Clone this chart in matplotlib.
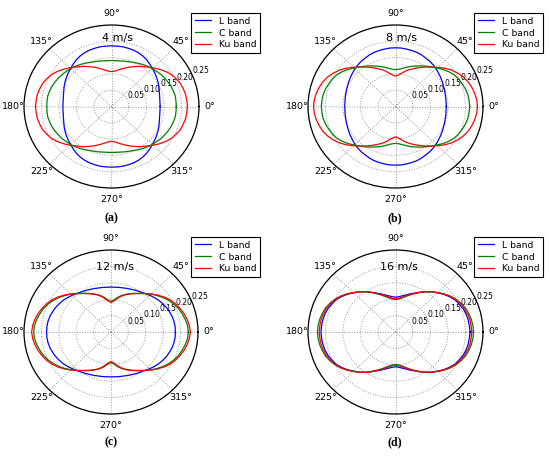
import numpy as np
import matplotlib
matplotlib.use("Agg")
import matplotlib.pyplot as plt

# azimuth (deg) for one quadrant; curves are symmetric about both axes
theta_q = [0, 5, 10, 15, 20, 25, 30, 35, 40, 45, 50, 55, 60, 65, 70, 75, 80, 85, 90]

speeds = ["4 m/s", "8 m/s", "12 m/s", "16 m/s"]
panel_tags = ["(a)", "(b)", "(c)", "(d)"]
bands = ["L band", "C band", "Ku band"]

# 4 m/s
l_4 = [0.139, 0.139, 0.140, 0.142, 0.145, 0.149, 0.153, 0.157, 0.161, 0.165,
       0.170, 0.175, 0.179, 0.182, 0.184, 0.185, 0.186, 0.186, 0.186]
c_4 = [0.185, 0.185, 0.185, 0.183, 0.181, 0.178, 0.175, 0.172, 0.168, 0.165,
       0.161, 0.157, 0.153, 0.149, 0.146, 0.144, 0.142, 0.141, 0.141]
ku_4 = [0.217, 0.216, 0.215, 0.212, 0.209, 0.203, 0.197, 0.188, 0.178, 0.168,
        0.158, 0.150, 0.142, 0.134, 0.127, 0.120, 0.114, 0.109, 0.107]
# 8 m/s
l_8 = [0.145, 0.145, 0.146, 0.147, 0.149, 0.151, 0.154, 0.157, 0.160, 0.164,
       0.167, 0.170, 0.172, 0.175, 0.177, 0.178, 0.179, 0.180, 0.180]
c_8 = [0.212, 0.211, 0.210, 0.207, 0.203, 0.199, 0.194, 0.186, 0.177, 0.167,
       0.159, 0.151, 0.144, 0.137, 0.131, 0.125, 0.119, 0.115, 0.113]
ku_8 = [0.234, 0.233, 0.230, 0.226, 0.221, 0.214, 0.205, 0.195, 0.183, 0.170,
        0.158, 0.148, 0.138, 0.129, 0.121, 0.113, 0.104, 0.097, 0.093]
# 12 m/s
l_12 = [0.185, 0.185, 0.184, 0.182, 0.179, 0.176, 0.172, 0.168, 0.163, 0.158,
        0.153, 0.149, 0.146, 0.143, 0.141, 0.139, 0.138, 0.137, 0.137]
c_12 = [0.222, 0.221, 0.217, 0.212, 0.207, 0.200, 0.192, 0.183, 0.173, 0.163,
        0.153, 0.144, 0.136, 0.129, 0.122, 0.115, 0.107, 0.098, 0.093]
ku_12 = [0.228, 0.226, 0.222, 0.217, 0.211, 0.204, 0.196, 0.186, 0.175, 0.164,
         0.153, 0.143, 0.135, 0.128, 0.121, 0.113, 0.104, 0.095, 0.090]
# 16 m/s
l_16 = [0.213, 0.212, 0.211, 0.209, 0.206, 0.201, 0.196, 0.188, 0.179, 0.169,
        0.160, 0.150, 0.140, 0.131, 0.124, 0.117, 0.112, 0.108, 0.106]
c_16 = [0.223, 0.222, 0.220, 0.217, 0.213, 0.207, 0.200, 0.191, 0.181, 0.170,
        0.160, 0.150, 0.139, 0.129, 0.120, 0.112, 0.105, 0.101, 0.099]
ku_16 = [0.218, 0.217, 0.216, 0.213, 0.210, 0.205, 0.198, 0.190, 0.180, 0.170,
         0.160, 0.150, 0.140, 0.130, 0.122, 0.114, 0.108, 0.103, 0.101]

series = [(l_4, c_4, ku_4), (l_8, c_8, ku_8), (l_12, c_12, ku_12), (l_16, c_16, ku_16)]
colors = ["b", "g", "r"]


def full_circle(q):
    # unfold one quadrant into 0..360 using the mirror symmetry of the pattern
    q = list(q)
    return q + q[-2::-1] + q[1:] + q[-2::-1]


theta_full = np.deg2rad(np.arange(0, 361, 5))

W, H = 550, 463
fig = plt.figure(figsize=(W / 100, H / 100), dpi=100)

# panel boxes in pixels: left, top, right, bottom
boxes = [(24, 25, 199, 188), (308, 25, 483, 188), (24, 250, 198, 414), (308, 250, 483, 414)]
title_xy = [(118, 38), (402, 38), (115, 267), (399, 267)]
tag_xy = [(111, 218), (395, 218), (111, 442), (395, 442)]
legend_xy = [(191, 13), (474, 13), (191, 237), (474, 237)]

for i in range(4):
    l, t, r, b = boxes[i]
    ax = fig.add_axes([l / W, 1 - b / H, (r - l) / W, (b - t) / H], projection="polar")
    ax.set_aspect("auto")
    for vals, col, name in zip(series[i], colors, bands):
        ax.plot(theta_full, full_circle(vals), color=col, lw=0.9, label=name)
    ax.set_ylim(0, 0.25)
    ax.set_yticks([0.05, 0.10, 0.15, 0.20, 0.25])
    ax.set_yticklabels(["0.05", "0.10", "0.15", "0.20", "0.25"], fontsize=5.5)
    ax.set_rlabel_position(22.5)
    ax.set_thetagrids(np.arange(0, 360, 45), fontsize=6.8)
    ax.tick_params(axis="x", pad=-2.5)
    ax.grid(True, color="#999999", linestyle=":", lw=0.7)
    ax.spines["polar"].set_color("black")
    ax.spines["polar"].set_linewidth(0.9)
    fig.text(title_xy[i][0] / W, 1 - title_xy[i][1] / H, speeds[i],
             ha="center", va="center", fontsize=8)
    fig.text(tag_xy[i][0] / W, 1 - tag_xy[i][1] / H, panel_tags[i],
             ha="center", va="center", fontsize=8.5, family="Liberation Serif",
             fontweight="bold")
    leg = ax.legend(loc="upper left",
                    bbox_to_anchor=(legend_xy[i][0] / W, 1 - legend_xy[i][1] / H),
                    bbox_transform=fig.transFigure, fontsize=6.7, fancybox=False,
                    framealpha=1, edgecolor="black", handlelength=1.8,
                    borderpad=0.4, labelspacing=0.3, handletextpad=0.8,
                    borderaxespad=0)
    leg.get_frame().set_linewidth(0.8)

fig.savefig("out.png", dpi=100)
